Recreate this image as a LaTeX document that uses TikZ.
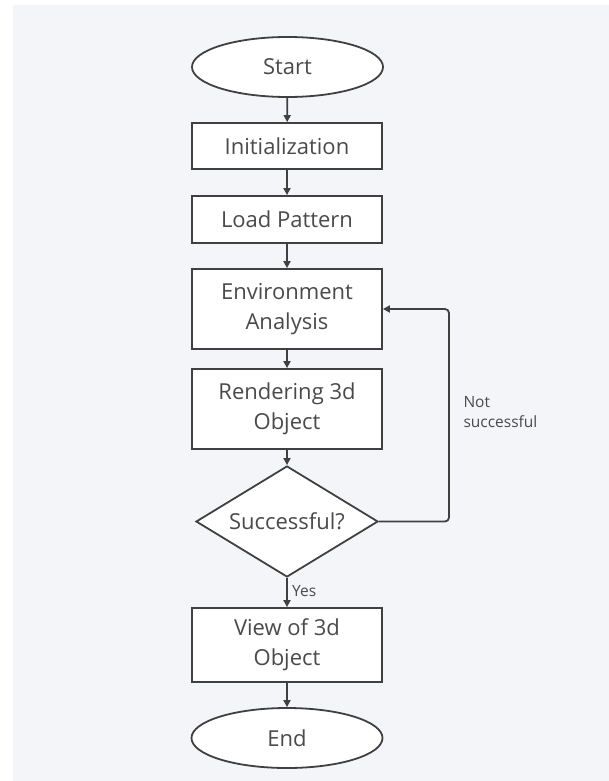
\documentclass[tikz,border=0pt]{standalone}
\usepackage{fontspec}
\setmainfont{Open Sans}
\usetikzlibrary{shapes.geometric,arrows.meta}
\definecolor{bgc}{HTML}{F4F5F8}
\definecolor{linec}{HTML}{404040}
\definecolor{txtc}{HTML}{4A4A4A}
\begin{document}
\begin{tikzpicture}[x=1pt,y=-1pt,
  every node/.style={text=txtc,font=\fontsize{22}{30}\selectfont},
  procbox/.style={draw=linec,line width=1.8pt,fill=white,rectangle,minimum width=190pt,align=center,inner sep=0pt},
  term/.style={draw=linec,line width=1.8pt,fill=white,ellipse,minimum width=191pt,minimum height=60pt,inner sep=0pt},
  decis/.style={draw=linec,line width=1.8pt,fill=white,diamond,minimum width=182pt,minimum height=111pt,inner sep=0pt,aspect=1.64},
  conn/.style={draw=linec,line width=1.8pt,-{Triangle[length=7pt,width=7pt]}},
  small/.style={font=\fontsize{15.5}{20}\selectfont,text=txtc}]
\useasboundingbox (0,0) rectangle (609,781);
\fill[bgc] (13,5) rectangle (609,781);
\node[term] (start) at (287.5,67) {Start};
\node[procbox,minimum height=46pt] (init) at (287,146) {Initialization};
\node[procbox,minimum height=47pt] (load) at (287,219.5) {Load Pattern};
\node[procbox,minimum height=80pt] (env) at (287,309) {Environment\\Analysis};
\node[procbox,minimum height=80pt] (rend) at (287,409) {Rendering 3d\\Object};
\node[decis] (succ) at (287,521.5) {Successful?};
\node[procbox,minimum height=74pt] (view) at (287,645) {View of 3d\\Object};
\node[term] (end) at (287,738) {End};
\coordinate (c1) at (449,521.5);
\coordinate (c2) at (449,309);
\draw[conn] (start) -- (init);
\draw[conn] (init) -- (load);
\draw[conn] (load) -- (env);
\draw[conn] (env) -- (rend);
\draw[conn] (rend) -- (succ);
\draw[conn] (succ) -- node[small,right,pos=0.45,xshift=1pt] (yes) {Yes} (view);
\draw[conn] (view) -- (end);
\draw[conn,rounded corners=4pt] (succ.east) -- (c1) -- (c2) -- (env.east);
\node[small,align=left,anchor=west] (ns) at (460,412) {Not\\successful};
\end{tikzpicture}
\end{document}
